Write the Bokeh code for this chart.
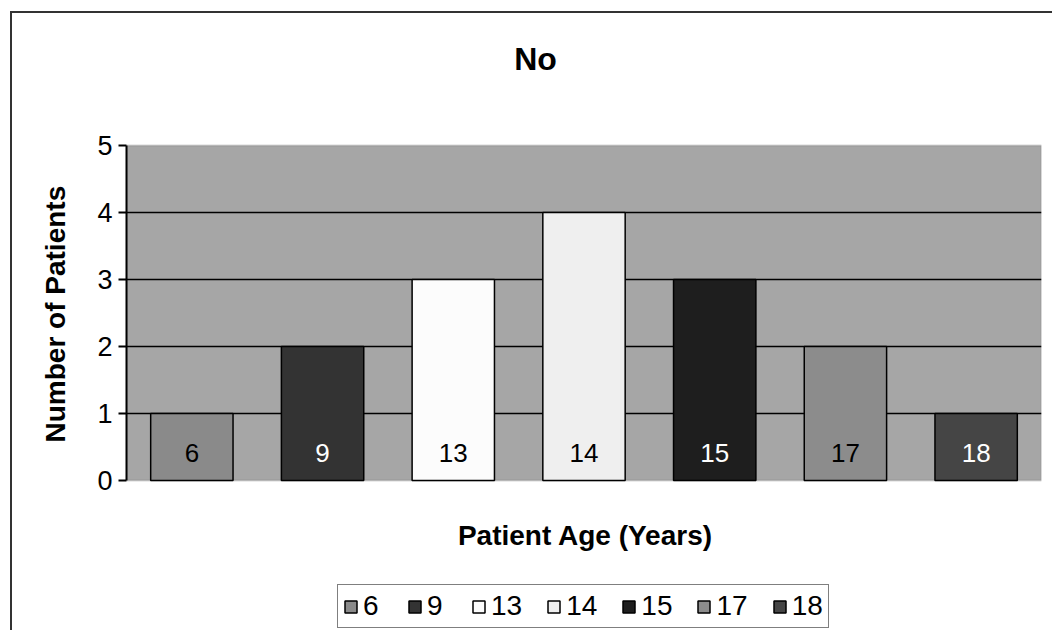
from bokeh.plotting import figure
from bokeh.models import (ColumnDataSource, FactorRange, Range1d, Label, BoxAnnotation,
                          Legend, LegendItem, FixedTicker, Title)
from bokeh.core.properties import value
from bokeh.embed import file_html
from bokeh.resources import INLINE

# ---- data ----
ages = ["6", "9", "13", "14", "15", "17", "18"]
patients = [1, 2, 3, 4, 3, 2, 1]
bar_colors = ["#8a8a8a", "#333333", "#fcfcfc", "#efefef", "#1e1e1e", "#8c8c8c", "#454545"]
label_colors = ["#000000", "#ffffff", "#000000", "#000000", "#ffffff", "#000000", "#ffffff"]
y_ticks = [0, 1, 2, 3, 4, 5]
title_text = "No"
x_title = "Patient Age (Years)"
y_title = "Number of Patients"

FONT = "Liberation Sans"

# ---- layout constants (page pixels) ----
OX, OY = 12, 13                      # canvas origin inside the outer border
W, H = 1054 - OX, 632 - OY
PL, PR, PT, PB = 126, 1041, 145, 480  # plot area
YMAX = 5
unit = (PB - PT) / YMAX
def ydat(py):
    return (PB - py) / unit

src = ColumnDataSource(dict(age=ages, n=patients, color=bar_colors, lcolor=label_colors))

p = figure(width=W, height=H,
           x_range=FactorRange(factors=ages),
           y_range=Range1d(ydat(632), ydat(OY)),
           x_axis_location=None,
           output_backend="svg", toolbar_location=None,
           min_border_left=PL - OX, min_border_right=1054 - PR,
           min_border_top=0, min_border_bottom=0)

p.styles = {"margin-left": "10px", "margin-top": "11px",
            "border-left": "2px solid #333333", "border-top": "2px solid #333333"}

p.background_fill_color = "white"
p.border_fill_color = "white"
p.outline_line_color = None

# plot-area background
p.add_layout(BoxAnnotation(bottom=0, top=YMAX, level="image",
                           fill_color="#a6a6a6", fill_alpha=1,
                           line_color="#7a7a7a", line_width=2))

for g in p.grid:
    if g.dimension == 0:
        g.visible = False
    else:
        g.ticker = FixedTicker(ticks=y_ticks[1:-1])
        g.grid_line_color = "black"
        g.grid_line_width = 1.6

yax = p.yaxis[0]
yax.ticker = FixedTicker(ticks=y_ticks)
yax.bounds = (0, YMAX)
yax.major_label_text_font = FONT
yax.major_label_text_font_size = "27px"
yax.major_label_text_color = "black"
yax.major_label_standoff = 6
yax.major_tick_out = 8
yax.major_tick_in = 0
yax.major_tick_line_color = "black"
yax.major_tick_line_width = 2
yax.minor_tick_line_color = None
yax.axis_line_color = "black"
yax.axis_line_width = 2

p.add_layout(Title(text=y_title, align="left", offset=632 - 442, standoff=48,
                   text_font=FONT, text_font_style="bold", text_font_size="28px",
                   text_color="black"), "left")

r = p.vbar(x="age", top="n", width=0.63, source=src,
           fill_color="color", line_color="black", line_width=1.5)

p.text(x="age", y=ydat(452), text="age", source=src, text_color="lcolor",
       text_align="center", text_baseline="middle",
       text_font=value(FONT), text_font_size="26px")

legend = Legend(items=[LegendItem(label=a, renderers=[r], index=i) for i, a in enumerate(ages)],
                orientation="horizontal", location=(337 - PL, 632 - 628),
                glyph_width=15, glyph_height=15, label_standoff=5,
                label_text_font=FONT, label_text_font_size="28px",
                label_text_color="black",
                spacing=24, padding=5, margin=0,
                border_line_color="black", border_line_width=1.5,
                background_fill_color="white", background_fill_alpha=1)
p.add_layout(legend)

p.add_layout(Label(x=533 - OX, y=ydat(58), x_units="canvas", y_units="data", text=title_text,
                   text_align="center", text_baseline="middle", text_color="black",
                   text_font=FONT, text_font_style="bold", text_font_size="32px"))
p.add_layout(Label(x=583 - OX, y=ydat(535), x_units="canvas", y_units="data", text=x_title,
                   text_align="center", text_baseline="middle", text_color="black",
                   text_font=FONT, text_font_style="bold", text_font_size="28px"))

open("out.html", "w").write(file_html(p, INLINE))
